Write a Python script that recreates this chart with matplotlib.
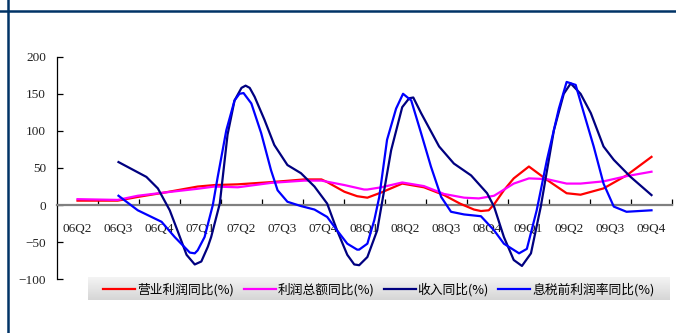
import matplotlib
matplotlib.use('Agg')
import matplotlib.pyplot as plt
import numpy as np
from matplotlib.lines import Line2D

quarters = ['06Q2', '06Q3', '06Q4', '07Q1', '07Q2', '07Q3', '07Q4', '08Q1',
            '08Q2', '08Q3', '08Q4', '09Q1', '09Q2', '09Q3', '09Q4']

# x positions are in quarter units (0 = 06Q2)
red_x = [0, 0.98, 1.47, 2.13, 2.93, 3.34, 3.91, 4.73, 5.53, 5.95, 6.09, 6.51, 6.82, 7.07,
         7.41, 7.92, 8.45, 8.94, 9.33, 9.67, 9.84, 10.03, 10.16, 10.40, 10.64, 11.01, 11.45,
         11.93, 12.27, 12.83, 13.39, 14]
red_y = [6, 6, 11, 17, 25, 27, 28, 31, 34.6, 34.6, 31, 18, 12, 10,
         17, 29, 24, 13.5, 2, -6, -8, -7, 1, 20, 36, 52, 34,
         16, 14, 22.5, 40, 65]

mag_x = [0, 0.98, 1.47, 2.13, 2.93, 3.34, 3.91, 4.73, 5.53, 5.95, 6.51, 6.99, 7.07, 7.41,
         7.92, 8.45, 8.94, 9.43, 9.79, 10.16, 10.64, 11.01, 11.45, 11.93, 12.27, 12.83,
         13.39, 14]
mag_y = [8, 7, 12.6, 17, 22, 25, 24, 30, 33, 33, 27, 21, 21, 24,
         30.5, 25.6, 15, 10, 9, 12.6, 29, 36, 35, 29, 29, 32,
         39, 45]

navy_x = [1.0, 1.68, 1.96, 2.25, 2.45, 2.66, 2.86, 3.02, 3.18, 3.26, 3.47, 3.66, 3.83, 4.0,
          4.10, 4.20, 4.32, 4.56, 4.80, 5.12, 5.45, 5.78, 6.09, 6.33, 6.58, 6.75, 6.87, 7.07,
          7.31, 7.65, 7.92, 8.09, 8.19, 8.38, 8.82, 9.18, 9.60, 9.99, 10.16, 10.40, 10.64,
          10.84, 11.06, 11.30, 11.62, 11.86, 12.03, 12.27, 12.52, 12.83, 13.08, 13.49, 14]
navy_y = [58, 38, 22.5, -7, -36, -67, -80, -76, -56, -43, 2, 95, 141, 158,
          161, 158, 146, 115, 81, 54, 43, 25, 2, -34, -67, -80, -81, -70,
          -34, 74, 132, 144, 145, 124, 79, 56, 40, 16, -2, -43, -74,
          -82, -65, -2, 101, 150, 164, 150, 124, 79, 61, 38, 13.5]

blue_x = [1.0, 1.47, 2.05, 2.37, 2.74, 2.86, 2.93, 3.10, 3.30, 3.42, 3.63, 3.83, 3.95, 4.05,
          4.24, 4.48, 4.72, 4.88, 5.12, 5.45, 5.78, 6.09, 6.33, 6.58, 6.82, 6.87, 7.07, 7.24,
          7.36, 7.55, 7.77, 7.94, 8.14, 8.38, 8.62, 8.87, 9.11, 9.43, 9.84, 10.16, 10.40,
          10.77, 10.96, 11.20, 11.45, 11.74, 11.93, 12.15, 12.35, 12.59, 12.83, 13.08,
          13.39, 14]
blue_y = [12.6, -7, -22.5, -43, -64, -65, -61, -43, 0, 38, 101, 141, 150, 151,
          137, 97, 47, 20, 4.5, -1.3, -6, -16, -34, -52, -60, -60, -52, -20,
          11, 88, 130, 150, 141, 97, 52, 11, -9, -12.6, -15, -34, -52,
          -65, -59, -7, 61, 130, 166, 162, 124, 79, 29, -2,
          -9, -7]

labels = ['营业利润同比(%)', '利润总额同比(%)', '收入同比(%)', '息税前利润率同比(%)']
colors = ['#ff0000', '#ff00ff', '#000080', '#0000ff']

W, H = 676, 333
fig = plt.figure(figsize=(W / 100, H / 100), dpi=100)
ax = fig.add_axes([57 / W, 1 - 279.3 / H, 615 / W, 222.6 / H])

series = [(red_x, red_y), (mag_x, mag_y), (navy_x, navy_y), (blue_x, blue_y)]
for (xs, ys), c, lab in zip(series, colors, labels):
    ax.plot(xs, ys, color=c, lw=1.6, label=lab, zorder=3, solid_joinstyle='round')

ax.set_xlim(-0.5, 14.5)
ax.set_ylim(-100, 200)

for s in ['top', 'right']:
    ax.spines[s].set_visible(False)
ax.spines['left'].set_color('black')
ax.spines['left'].set_linewidth(0.9)
ax.spines['bottom'].set_position(('data', 0))
ax.spines['bottom'].set_color('#808080')
ax.spines['bottom'].set_linewidth(1.6)

ax.set_yticks([-100, -50, 0, 50, 100, 150, 200])
ax.tick_params(axis='y', direction='in', length=4, width=0.9, pad=8,
               labelsize=9.5)
ax.set_xticks(range(len(quarters)))
ax.set_xticklabels(quarters)
ax.set_xticks(np.arange(0.5, 15, 1), minor=True)
ax.tick_params(axis='x', which='major', length=0, pad=13, labelsize=9.5)
ax.tick_params(axis='x', which='minor', direction='in', length=4, width=0.9)
for t in ax.get_xticklabels() + ax.get_yticklabels():
    t.set_fontfamily('Liberation Serif')
    t.set_color('#222222')

# legend background with gradient
lx0, lx1, ly0, ly1 = 88 / W, 670 / W, 1 - 300 / H, 1 - 277 / H
bg = fig.add_axes([lx0, ly0, lx1 - lx0, ly1 - ly0])
grad = np.linspace(0, 1, 50).reshape(-1, 1)
bg.imshow(grad, aspect='auto', cmap=matplotlib.colors.LinearSegmentedColormap.from_list(
    'g', ['#f4f4f4', '#d6d6d6']), extent=[0, 1, 1, 0])
bg.set_axis_off()

handles, labs = ax.get_legend_handles_labels()
fig.legend(handles, labs, loc='center', bbox_to_anchor=((lx0 + lx1) / 2, (ly0 + ly1) / 2 - 0.004),
           ncol=4, frameon=False, handlelength=2.5, handletextpad=0.15, columnspacing=0.75,
           prop={'family': ['Noto Sans CJK SC', 'DejaVu Sans'], 'size': 9.2})

# page frame lines
fc = '#003366'
fig.add_artist(Line2D([8 / W, 8 / W], [0, 1], color=fc, lw=1.8, transform=fig.transFigure))
fig.add_artist(Line2D([0, 1], [1 - 11 / H, 1 - 11 / H], color=fc, lw=1.8, transform=fig.transFigure))

fig.savefig('out.png', dpi=100)
